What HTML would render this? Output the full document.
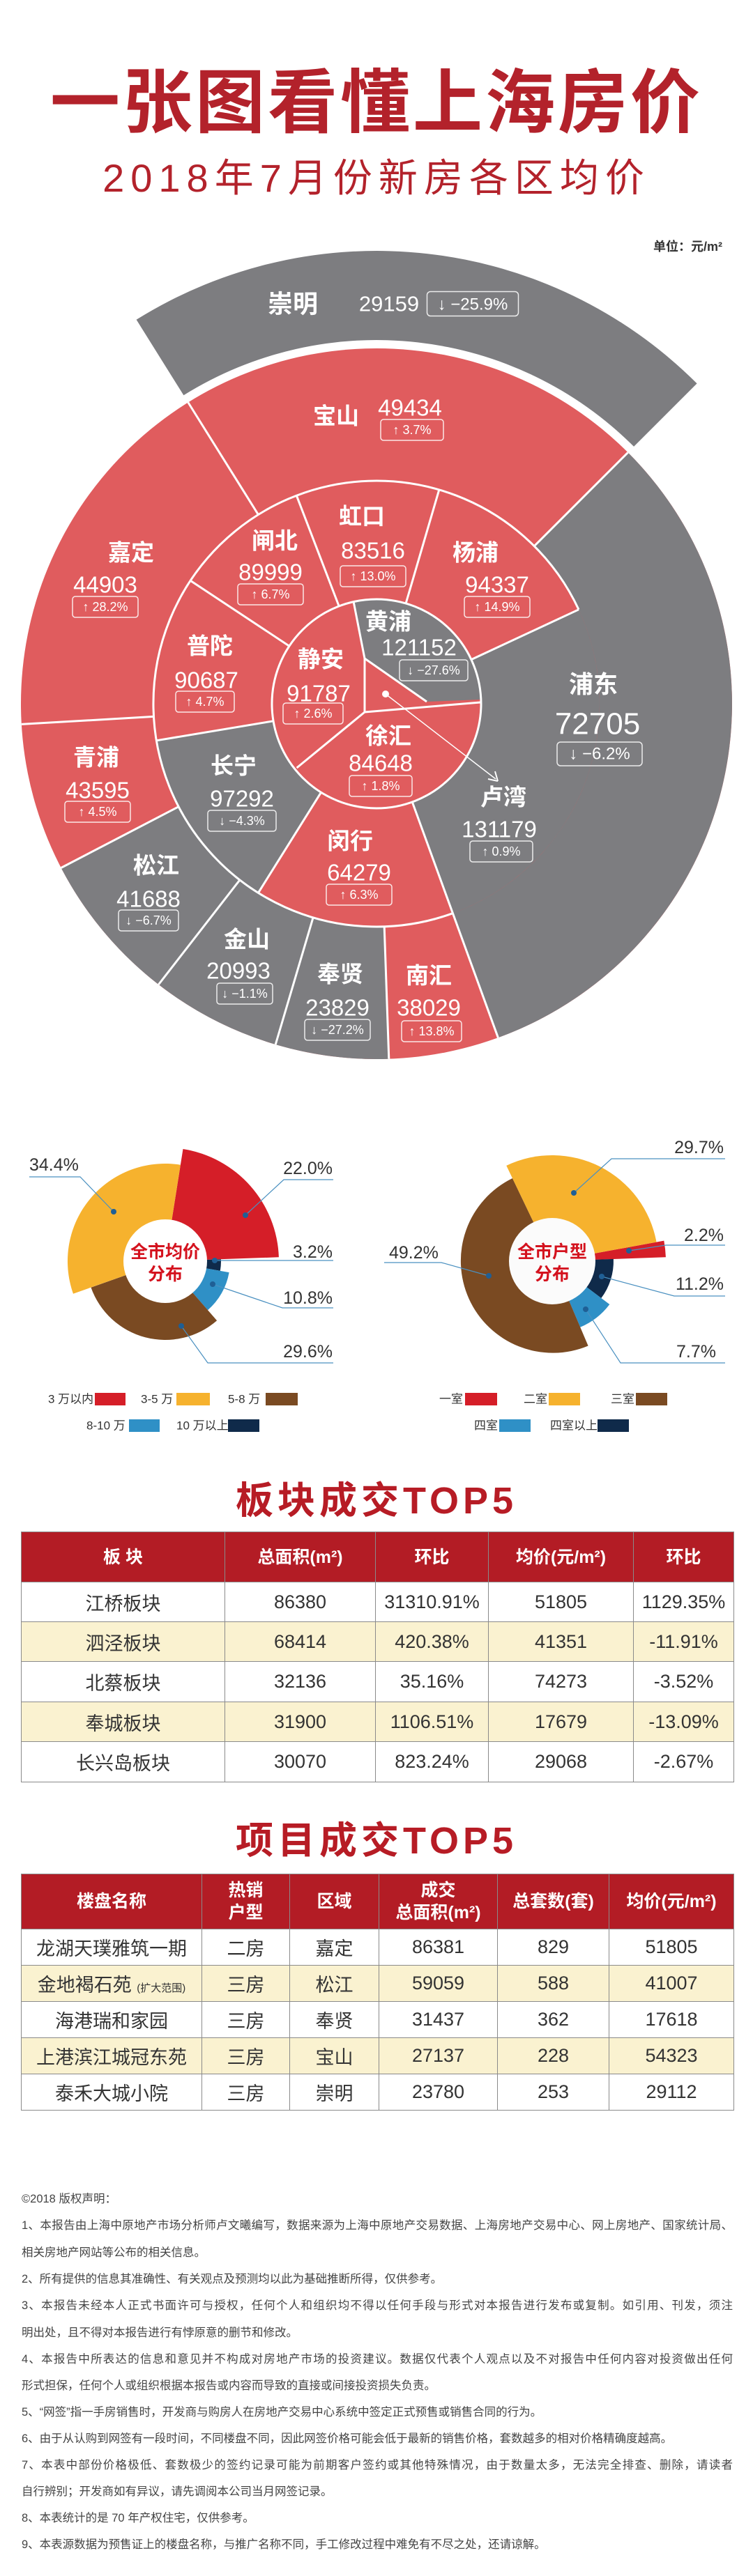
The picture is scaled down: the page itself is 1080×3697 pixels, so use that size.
<!DOCTYPE html>
<html><head><meta charset="utf-8">
<style>
*{margin:0;padding:0;box-sizing:border-box}
body{width:1080px;height:3697px;background:#fff;position:relative;overflow:hidden;font-family:"Liberation Sans","Noto Sans CJK SC",sans-serif;color:#333}
.abs{position:absolute}
.t1{left:0;width:1080px;top:88px;text-align:center;font-size:100px;font-weight:700;color:#b3222b;letter-spacing:4px;line-height:120px}
.t2{left:0;width:1080px;top:222px;text-align:center;font-size:56px;font-weight:400;color:#b3222b;letter-spacing:9px;line-height:68px}
.unit{right:44px;top:340px;font-size:18px;font-weight:700;color:#333}
.sec{left:0;width:1080px;text-align:center;font-size:54px;font-weight:700;color:#b71c25;letter-spacing:6px;line-height:60px}
table{position:absolute;border-collapse:collapse;table-layout:fixed}
td,th{border:1.5px solid #8a8a8a;text-align:center;vertical-align:middle;color:#333}
th{background:#b31c25;color:#fff;font-weight:700;font-size:25px;line-height:32px}
td{font-size:27px}
tr.alt td{background:#faf2d0}
.ft{left:31px;width:1020px;font-size:16.5px;color:#444;line-height:20px;white-space:nowrap}
.j{text-align:justify;text-align-last:justify}
</style></head><body>

<div class="abs t1">一张图看懂上海房价</div>
<div class="abs t2">2018年7月份新房各区均价</div>
<div class="abs unit">单位：元/m²</div>

<svg class="abs" style="left:0;top:0" width="1080" height="2100" viewBox="0 0 1080 2100" font-family="Liberation Sans, Noto Sans CJK SC, sans-serif">
<g>
<path d="M195.6,458.8 A650,650 0 0 1 999.6,550.4 L909.1,640.9 A522,522 0 0 0 263.4,567.3 Z" fill="#7d7d80"/>
<circle cx="540" cy="1010" r="510" fill="#e05c5e"/>
<path d="M540,1010 L900.6,649.4 A510,510 0 0 1 714.4,1489.2 Z" fill="#7d7d80"/>
<path d="M540,1010 L557.8,1519.7 A510,510 0 0 1 87.6,1245.5 Z" fill="#7d7d80"/>
<circle cx="540" cy="1010" r="320" fill="#e05c5e"/>
<path d="M540,1010 L830,874.8 A320,320 0 0 1 649.4,1310.7 Z" fill="#7d7d80"/>
<path d="M540,1010 L370.4,1281.4 A320,320 0 0 1 224.4,1062.8 Z" fill="#7d7d80"/>
<circle cx="540" cy="1010" r="150" fill="#e05c5e"/>
<path d="M507,863 A150,150 0 0 1 689.9,1004 L612,1007 L523,945 Z" fill="#7d7d80"/>
<g stroke="#fff" stroke-width="3" fill="none">
<circle cx="540" cy="1010" r="150"/>
<path d="M649.4,1310.7 A320,320 0 1 1 830,874.8"/>
<line x1="414.9" y1="927.2" x2="273.2" y2="833.4"/>
<line x1="486.2" y1="870" x2="425.3" y2="711.2"/>
<line x1="582.1" y1="866" x2="629.8" y2="702.9"/>
<line x1="675.9" y1="946.6" x2="830" y2="874.8"/>
<line x1="591.3" y1="1151" x2="714.4" y2="1489.2"/>
<line x1="460.5" y1="1137.2" x2="370.4" y2="1281.4"/>
<line x1="392.1" y1="1034.8" x2="224.4" y2="1062.8"/>
<line x1="370.4" y1="738.6" x2="269.8" y2="577.5"/>
<line x1="766.3" y1="783.7" x2="900.6" y2="649.4"/>
<line x1="551.2" y1="1329.8" x2="557.8" y2="1519.7"/>
<line x1="449.1" y1="1316.8" x2="395.2" y2="1499"/>
<line x1="343.9" y1="1262.9" x2="227.4" y2="1413"/>
<line x1="256.2" y1="1157.7" x2="87.6" y2="1245.5"/>
<line x1="220.5" y1="1028.4" x2="30.9" y2="1039.4"/>
<line x1="507" y1="863" x2="523" y2="945"/>
<line x1="523" y1="945" x2="612" y2="1007"/>
<line x1="523" y1="945" x2="523" y2="1022"/>
<line x1="523" y1="1022" x2="689" y2="1008"/>
<line x1="523" y1="1022" x2="425.6" y2="1102"/>
</g>
<circle cx="553" cy="996" r="5" fill="#fff"/>
<line x1="553" y1="996" x2="711" y2="1118" stroke="#fff" stroke-width="1.5"/>
<path d="M714,1121 L700,1118 M714,1121 L710,1107" stroke="#fff" stroke-width="2" fill="none"/>
</g>

<g fill="#fff" text-anchor="middle" dominant-baseline="central">
<g font-size="33" font-weight="700">
<text x="420" y="436" font-size="36">崇明</text>
<text x="482" y="597">宝山</text><text x="188" y="793">嘉定</text><text x="394" y="776">闸北</text>
<text x="519" y="741">虹口</text><text x="682" y="793">杨浦</text><text x="301" y="927">普陀</text>
<text x="460" y="946">静安</text><text x="557" y="892">黄浦</text><text x="557" y="1056">徐汇</text>
<text x="851" y="983" font-size="35">浦东</text><text x="722" y="1144">卢湾</text><text x="138" y="1087">青浦</text>
<text x="335" y="1099">长宁</text><text x="502" y="1207">闵行</text><text x="224" y="1242">松江</text>
<text x="354" y="1348">金山</text><text x="488" y="1398">奉贤</text><text x="615" y="1400">南汇</text>
</g>
<g font-size="33">
<text x="558" y="436" font-size="31">29159</text>
<text x="588" y="585">49434</text><text x="151" y="839">44903</text><text x="388" y="821">89999</text>
<text x="535" y="790">83516</text><text x="713" y="839">94337</text><text x="296" y="976">90687</text>
<text x="457" y="995">91787</text><text x="601" y="929">121152</text><text x="546" y="1095">84648</text>
<text x="857" y="1039" font-size="44">72705</text><text x="716" y="1190">131179</text><text x="140" y="1134">43595</text>
<text x="347" y="1146">97292</text><text x="515" y="1252">64279</text><text x="213" y="1290">41688</text>
<text x="342" y="1393">20993</text><text x="484" y="1446">23829</text><text x="615" y="1446">38029</text>
</g>
<g font-size="18">
<text x="678" y="437" font-size="24">↓ −25.9%</text>
<text x="591" y="617">↑ 3.7%</text><text x="151" y="871">↑ 28.2%</text><text x="388" y="853">↑ 6.7%</text>
<text x="535" y="827">↑ 13.0%</text><text x="713" y="871">↑ 14.9%</text><text x="294" y="1007">↑ 4.7%</text>
<text x="449" y="1024">↑ 2.6%</text><text x="622" y="962">↓ −27.6%</text><text x="546" y="1128">↑ 1.8%</text>
<text x="860" y="1082" font-size="24">↓ −6.2%</text><text x="719" y="1222">↑ 0.9%</text><text x="140" y="1165">↑ 4.5%</text>
<text x="347" y="1178">↓ −4.3%</text><text x="515" y="1284">↑ 6.3%</text><text x="213" y="1321">↓ −6.7%</text>
<text x="351" y="1426">↓ −1.1%</text><text x="484" y="1478">↓ −27.2%</text><text x="619" y="1480">↑ 13.8%</text>
</g>
</g>
<g fill="none" stroke="#fff" stroke-width="1.5" opacity="0.85">
<rect x="612.5" y="418.5" width="131" height="35" rx="5"/>
<rect x="546" y="602" width="90" height="30" rx="4"/><rect x="104" y="856" width="94" height="30" rx="4"/>
<rect x="341" y="838" width="94" height="30" rx="4"/><rect x="488" y="812" width="94" height="30" rx="4"/>
<rect x="666" y="856" width="94" height="30" rx="4"/><rect x="252" y="992" width="84" height="30" rx="4"/>
<rect x="406" y="1009" width="86" height="30" rx="4"/><rect x="573" y="947" width="98" height="30" rx="4"/>
<rect x="501" y="1113" width="90" height="30" rx="4"/><rect x="799" y="1065" width="122" height="34" rx="5"/>
<rect x="674" y="1207" width="90" height="30" rx="4"/><rect x="93" y="1150" width="94" height="30" rx="4"/>
<rect x="298" y="1163" width="98" height="30" rx="4"/><rect x="468" y="1269" width="94" height="30" rx="4"/>
<rect x="170" y="1306" width="86" height="30" rx="4"/><rect x="311" y="1411" width="80" height="30" rx="4"/>
<rect x="437" y="1463" width="94" height="30" rx="4"/><rect x="576" y="1465" width="86" height="30" rx="4"/>
</g>

<!-- left pie -->
<path d="M237,1810 L262.5,1649 A163,163 0 0 1 399.9,1804.3 Z" fill="#d51e28"/>
<path d="M237,1810 L316.95,1807.2 A80,80 0 0 1 315.8,1823.9 Z" fill="#0f2a4a"/>
<path d="M237,1810 L328.6,1826.1 A93,93 0 0 1 298,1880.2 Z" fill="#2f90c6"/>
<path d="M237,1810 L311.1,1895.3 A113,113 0 0 1 130.5,1847.7 Z" fill="#7a4a22"/>
<path d="M237,1810 L105,1856.7 A140,140 0 0 1 258.9,1671.7 Z" fill="#f6b22e"/>
<circle cx="237" cy="1810" r="60" fill="#fff"/>
<text x="237" y="1797" text-anchor="middle" dominant-baseline="central" font-size="25" font-weight="700" fill="#d4121e">全市均价</text>
<text x="237" y="1829" text-anchor="middle" dominant-baseline="central" font-size="25" font-weight="700" fill="#d4121e">分布</text>
<!-- right pie -->
<path d="M792,1810 L952.3,1780.6 A163,163 0 0 1 954.9,1804.3 Z" fill="#d51e28"/>
<path d="M792,1810 L879.9,1806.9 A88,88 0 0 1 862.3,1863 Z" fill="#0f2a4a"/>
<path d="M792,1810 L874.3,1872 A103,103 0 0 1 832.2,1904.8 Z" fill="#2f90c6"/>
<path d="M792,1810 L843.6,1931.5 A132,132 0 0 1 735,1691 Z" fill="#7a4a22"/>
<path d="M792,1810 L726.3,1672.9 A152,152 0 0 1 941.5,1782.6 Z" fill="#f6b22e"/>
<circle cx="792" cy="1810" r="62" fill="#fbfbfb"/>
<text x="792" y="1797" text-anchor="middle" dominant-baseline="central" font-size="25" font-weight="700" fill="#d4121e">全市户型</text>
<text x="792" y="1829" text-anchor="middle" dominant-baseline="central" font-size="25" font-weight="700" fill="#d4121e">分布</text>

<g stroke="#4a90c0" stroke-width="1.2" fill="none">
<polyline points="42,1689 115,1689 163,1739"/>
<polyline points="478,1693 407,1693 352,1744"/>
<polyline points="478,1809 308,1809"/>
<polyline points="478,1877 405,1877 305,1843"/>
<polyline points="478,1956 298,1956 260,1903"/>
<polyline points="1040,1663 877,1663 823,1712"/>
<polyline points="1040,1787 955,1787 902,1795"/>
<polyline points="1040,1860 967,1860 863,1832"/>
<polyline points="1040,1956 890,1956 840,1879"/>
<polyline points="551,1812 633,1812 701,1831"/>
</g>
<g fill="#1f5f95">
<circle cx="163" cy="1739" r="4"/><circle cx="352" cy="1744" r="4"/><circle cx="308" cy="1809" r="4"/>
<circle cx="305" cy="1843" r="4"/><circle cx="260" cy="1903" r="4"/><circle cx="823" cy="1712" r="4"/>
<circle cx="902" cy="1795" r="4"/><circle cx="863" cy="1832" r="4"/><circle cx="840" cy="1879" r="4"/><circle cx="701" cy="1831" r="4"/>
</g>
<g font-size="25" fill="#333" dominant-baseline="central">
<text x="42" y="1672">34.4%</text>
<text x="477" y="1677" text-anchor="end">22.0%</text>
<text x="477" y="1797" text-anchor="end">3.2%</text>
<text x="477" y="1863" text-anchor="end">10.8%</text>
<text x="477" y="1940" text-anchor="end">29.6%</text>
<text x="1038" y="1647" text-anchor="end">29.7%</text>
<text x="1038" y="1773" text-anchor="end">2.2%</text>
<text x="1038" y="1843" text-anchor="end">11.2%</text>
<text x="1027" y="1940" text-anchor="end">7.7%</text>
<text x="558" y="1798">49.2%</text>
</g>
<!-- legends -->
<g font-size="17" fill="#333" dominant-baseline="central">
<text x="69" y="2008">3 万以内</text><rect x="136" y="1999" width="44" height="18" fill="#d51e28"/>
<text x="202" y="2008">3-5 万</text><rect x="253" y="1999" width="48" height="18" fill="#f6b22e"/>
<text x="327" y="2008">5-8 万</text><rect x="381" y="1999" width="46" height="18" fill="#7a4a22"/>
<text x="124" y="2046">8-10 万</text><rect x="185" y="2037" width="44" height="18" fill="#2f90c6"/>
<text x="253" y="2046">10 万以上</text><rect x="327" y="2037" width="45" height="18" fill="#0f2a4a"/>
<text x="630" y="2008">一室</text><rect x="667" y="1999" width="46" height="18" fill="#d51e28"/>
<text x="751" y="2008">二室</text><rect x="787" y="1999" width="45" height="18" fill="#f6b22e"/>
<text x="876" y="2008">三室</text><rect x="912" y="1999" width="45" height="18" fill="#7a4a22"/>
<text x="680" y="2046">四室</text><rect x="716" y="2037" width="45" height="18" fill="#2f90c6"/>
<text x="789" y="2046">四室以上</text><rect x="857" y="2037" width="45" height="18" fill="#0f2a4a"/>
</g>
</svg>

<div class="abs sec" style="top:2124px">板块成交TOP5</div>
<table style="left:30px;top:2198px;width:1022px">
<colgroup><col style="width:292px"><col style="width:216px"><col style="width:162px"><col style="width:208px"><col style="width:144px"></colgroup>
<tr style="height:72px"><th>板 块</th><th>总面积(m²)</th><th>环比</th><th>均价(元/m²)</th><th>环比</th></tr>
<tr style="height:57px"><td>江桥板块</td><td>86380</td><td>31310.91%</td><td>51805</td><td>1129.35%</td></tr>
<tr class="alt" style="height:57px"><td>泗泾板块</td><td>68414</td><td>420.38%</td><td>41351</td><td>-11.91%</td></tr>
<tr style="height:58px"><td>北蔡板块</td><td>32136</td><td>35.16%</td><td>74273</td><td>-3.52%</td></tr>
<tr class="alt" style="height:57px"><td>奉城板块</td><td>31900</td><td>1106.51%</td><td>17679</td><td>-13.09%</td></tr>
<tr style="height:58px"><td>长兴岛板块</td><td>30070</td><td>823.24%</td><td>29068</td><td>-2.67%</td></tr>
</table>

<div class="abs sec" style="top:2612px">项目成交TOP5</div>
<table style="left:30px;top:2689px;width:1022px">
<colgroup><col style="width:259px"><col style="width:126px"><col style="width:128px"><col style="width:170px"><col style="width:160px"><col style="width:179px"></colgroup>
<tr style="height:79px"><th>楼盘名称</th><th>热销<br>户型</th><th>区域</th><th>成交<br>总面积(m²)</th><th>总套数(套)</th><th>均价(元/m²)</th></tr>
<tr style="height:52px"><td>龙湖天璞雅筑一期</td><td>二房</td><td>嘉定</td><td>86381</td><td>829</td><td>51805</td></tr>
<tr class="alt" style="height:52px"><td>金地褐石苑 <span style="font-size:15px">(扩大范围)</span></td><td>三房</td><td>松江</td><td>59059</td><td>588</td><td>41007</td></tr>
<tr style="height:52px"><td>海港瑞和家园</td><td>三房</td><td>奉贤</td><td>31437</td><td>362</td><td>17618</td></tr>
<tr class="alt" style="height:52px"><td>上港滨江城冠东苑</td><td>三房</td><td>宝山</td><td>27137</td><td>228</td><td>54323</td></tr>
<tr style="height:52px"><td>泰禾大城小院</td><td>三房</td><td>崇明</td><td>23780</td><td>253</td><td>29112</td></tr>
</table>

<div class="abs ft" style="top:3146px">©2018 版权声明：</div>
<div class="abs ft j" style="top:3184px">1、本报告由上海中原地产市场分析师卢文曦编写，数据来源为上海中原地产交易数据、上海房地产交易中心、网上房地产、国家统计局、</div>
<div class="abs ft" style="top:3223px">相关房地产网站等公布的相关信息。</div>
<div class="abs ft" style="top:3261px">2、所有提供的信息其准确性、有关观点及预测均以此为基础推断所得，仅供参考。</div>
<div class="abs ft j" style="top:3299px">3、本报告未经本人正式书面许可与授权，任何个人和组织均不得以任何手段与形式对本报告进行发布或复制。如引用、刊发，须注</div>
<div class="abs ft" style="top:3338px">明出处，且不得对本报告进行有悖原意的删节和修改。</div>
<div class="abs ft j" style="top:3376px">4、本报告中所表达的信息和意见并不构成对房地产市场的投资建议。数据仅代表个人观点以及不对报告中任何内容对投资做出任何</div>
<div class="abs ft" style="top:3414px">形式担保，任何个人或组织根据本报告或内容而导致的直接或间接投资损失负责。</div>
<div class="abs ft" style="top:3452px">5、“网签”指一手房销售时，开发商与购房人在房地产交易中心系统中签定正式预售或销售合同的行为。</div>
<div class="abs ft" style="top:3490px">6、由于从认购到网签有一段时间，不同楼盘不同，因此网签价格可能会低于最新的销售价格，套数越多的相对价格精确度越高。</div>
<div class="abs ft j" style="top:3528px">7、本表中部份价格极低、套数极少的签约记录可能为前期客户签约或其他特殊情况，由于数量太多，无法完全排查、删除，请读者</div>
<div class="abs ft" style="top:3566px">自行辨别；开发商如有异议，请先调阅本公司当月网签记录。</div>
<div class="abs ft" style="top:3604px">8、本表统计的是 70 年产权住宅，仅供参考。</div>
<div class="abs ft" style="top:3642px">9、本表源数据为预售证上的楼盘名称，与推广名称不同，手工修改过程中难免有不尽之处，还请谅解。</div>
</body></html>
